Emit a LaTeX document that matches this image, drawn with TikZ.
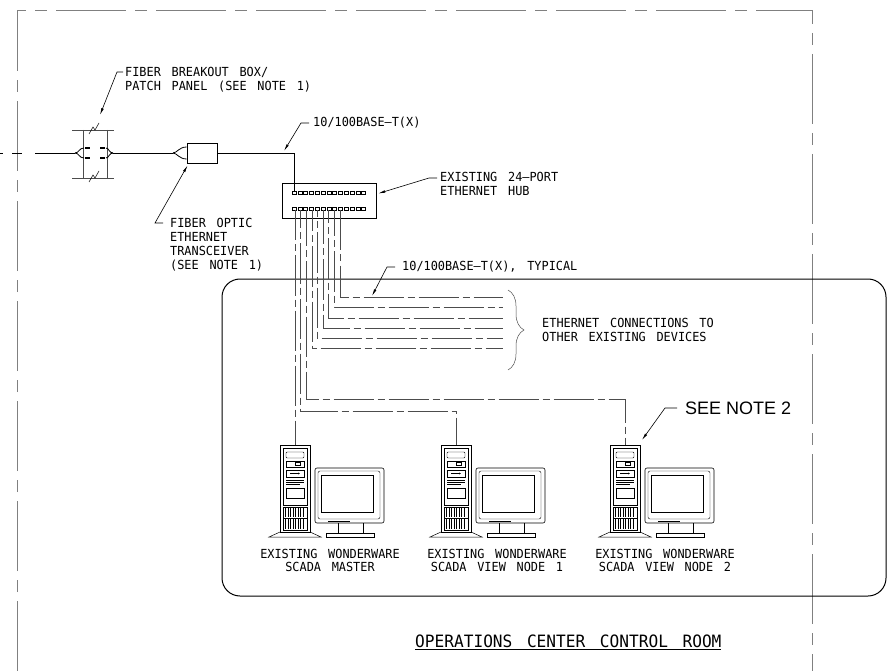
\documentclass[tikz,border=0pt]{standalone}
\usepackage{fontspec}
\newfontfamily\cadfont[FakeStretch=0.95,WordSpace=1.5]{DejaVu Sans Mono}
\newfontfamily\notefont{Liberation Sans}
\usetikzlibrary{arrows.meta,decorations.pathreplacing}

\tikzset{
  lbl/.style={font=\cadfont\fontsize{12.5}{14}\selectfont, inner sep=0pt, anchor=north west, align=left},
  wslabel/.style={font=\cadfont\fontsize{12.5}{13}\selectfont, inner sep=0pt, anchor=north, align=center},
  leader/.style={line width=0.6pt, ->},
  wire/.style={line width=0.8pt},
  cable/.style={black!70, line width=0.6pt, dash pattern=on 40pt off 4pt on 7pt off 4pt},
  frame/.style={black!50, line width=0.6pt, dash pattern=on 70pt off 9pt on 12pt off 9pt},
  workstation/.pic={
    % tower
    \draw[line width=0.6pt] (0,0) rectangle (30,87);
    \draw[line width=0.4pt] (3,3) rectangle (27,60);
    \draw[line width=0.4pt, rounded corners=1pt] (6,7) rectangle (24,13);
    \draw[line width=0.4pt] (6,16) rectangle (24,22) (15,17.5) rectangle (20,20.5);
    \draw[line width=0.4pt] (6,25) rectangle (24,32);
    \draw[line width=0.4pt, -{Latex[length=2pt,width=2pt]}] (10,28.5) -- (20,28.5);
    \draw[line width=0.4pt] (6,35) -- (24,35) (6,37) -- (24,37) (6,39) -- (20,39);
    \draw[line width=0.4pt] (6,43) rectangle (24,53);
    \draw[line width=0.4pt] (3,62) rectangle (27,85) (3,73) -- (27,73);
    \foreach \s in {5.5,8,...,25}
      \draw[line width=0.3pt] (\s,63) -- (\s,72) (\s,74) -- (\s,84);
    \draw[line width=0.5pt] (0,87) -- (-11,92) -- (41,92) -- (30,87);
    % monitor
    \draw[line width=0.6pt, rounded corners=2pt] (35,23) rectangle (104,78);
    \draw[line width=0.4pt, rounded corners=2pt] (38,26) rectangle (100,74);
    \draw[line width=0.6pt] (41,30) rectangle (93,67);
    \draw[line width=0.4pt] (48,76) -- (70,76);
    \draw[line width=0.5pt] (58,78) -- (58,88) (83,78) -- (83,88);
    \draw[line width=0.5pt] (46,88) rectangle (94,92);
    \coordinate (-top) at (15,0);
    \coordinate (-tr) at (32,-5);
  }
}

\begin{document}
\begin{tikzpicture}[x=1pt,y=-1pt,>={Latex[length=7pt,width=2.6pt]}]
\useasboundingbox (0,0) rectangle (889,671);

% building boundary and control room
\draw[frame] (17,671) -- (17,10) -- (812,10) -- (812,671);
\draw[line width=1pt, rounded corners=18pt] (222,279) rectangle (886,596);

% incoming fiber and breakout box
\draw[wire] (0,153) -- (3,153) (12,153) -- (22,153) (35,153) -- (75,153);
\draw[black!70, line width=0.6pt] (72,130) -- (114,130) (72,178) -- (114,178)
  (83,130) -- (83,178) (107,130) -- (107,178);
\draw[line width=0.5pt] (89,134) -- (93,127) -- (95,130) -- (99,123);
\draw[line width=0.5pt] (89,182) -- (93,175) -- (95,178) -- (99,171);
\draw[wire] (75,153) .. controls (79,153) and (79,148) .. (84,148);
\draw[wire] (75,153) .. controls (79,153) and (79,158) .. (84,158);
\draw[line width=1.8pt] (85,148) -- (90,148) (85,158) -- (90,158)
  (100,148) -- (105,148) (100,158) -- (105,158);
\draw[wire] (113,153) .. controls (109,153) and (109,148) .. (106,148);
\draw[wire] (113,153) .. controls (109,153) and (109,158) .. (106,158);
\coordinate (bbtip) at (100,115);

% transceiver
\node[draw, line width=0.9pt, minimum width=30pt, minimum height=20pt, inner sep=0pt] (xcvr) at (202,153) {};
\draw[wire] (113,153) -- (173,153);
\draw[wire] (173,153) .. controls (177,153) and (179,147) .. (xcvr.west |- 0,147);
\draw[wire] (173,153) .. controls (177,153) and (179,159) .. (xcvr.west |- 0,159);

% ethernet hub
\node[draw, line width=0.5pt, minimum width=94pt, minimum height=35pt, inner sep=0pt] (hub) at (329,200.5) {};
\foreach \i in {0,...,12} {
  \draw[line width=0.4pt] (292+\i*5.8,191.5) rectangle ++(4,3);
  \draw[line width=0.4pt] (292+\i*5.8,207.5) rectangle ++(4,3);
}
\coordinate (uplink) at (294,191.5);
\draw[wire] (xcvr.east) -| (uplink);

% patch cables to other devices
\foreach \x/\y/\p in {340/297/0, 334/307/14, 328/318/27, 323/328/6, 317/338/33, 312/348/19}
  \draw[cable, dash phase=\p] (\x,210.5) |- (503,\y);

% workstations
\pic (m) at (280,445) {workstation};
\pic (na) at (441,445) {workstation};
\pic (nb) at (610,445) {workstation};
\draw[cable, dash phase=10] (295,210.5) -- (m-top);
\draw[cable, dash phase=22] (300,210.5) -- (300,411) -| (na-top);
\draw[cable, dash phase=4] (306,210.5) -- (306,399) -| (nb-top);

\draw[black!70, line width=0.5pt, decorate, decoration={brace, amplitude=16pt}] (508,290) -- (508,370);

% labels
\node[lbl] (fbb) at (125,67) {FIBER BREAKOUT BOX/\\PATCH PANEL (SEE NOTE 1)};
\node[lbl, anchor=west] (base) at (313,123) {10/100BASE—T(X)};
\node[lbl] (hubl) at (440,172) {EXISTING 24—PORT\\ETHERNET HUB};
\node[lbl] (foet) at (170,218) {FIBER OPTIC\\ETHERNET\\TRANSCEIVER\\(SEE NOTE 1)};
\node[lbl, anchor=west] (typ) at (402,267) {10/100BASE—T(X), TYPICAL};
\node[lbl] (edev) at (542,318) {ETHERNET CONNECTIONS TO\\OTHER EXISTING DEVICES};
\node[font=\notefont\fontsize{18}{20}\selectfont, inner sep=0pt, anchor=west] (note) at (685,408) {SEE NOTE 2};
\node[wslabel] (ml) at (330,549) {EXISTING WONDERWARE\\SCADA MASTER};
\node[wslabel] (nal) at (497,549) {EXISTING WONDERWARE\\SCADA VIEW NODE 1};
\node[wslabel] (nbl) at (665,549) {EXISTING WONDERWARE\\SCADA VIEW NODE 2};
\node[font=\cadfont\fontsize{17}{19}\selectfont, inner sep=0pt, anchor=west] (room) at (415,642) {\underline{OPERATIONS CENTER CONTROL ROOM}};

% leaders
\draw[leader] ([shift={(-2,5)}]fbb.north west) -- ++(-6,0) -- (bbtip);
\draw[leader] ([xshift=-4pt]base.west) -- ++(-8,0) -- (284,151);
\draw[leader] ([shift={(-3,6)}]hubl.north west) -- ++(-8,0) -- ([shift={(2,-7)}]hub.east);
\draw[leader] ([shift={(-7,5)}]foet.north west) -- ++(-8,0) -- ([shift={(1,2)}]xcvr.south west);
\draw[leader] ([xshift=-7pt]typ.west) -- ++(-8,0) -- (372,296);
\draw[leader] ([xshift=-8pt]note.west) -- ++(-12,0) -- (nb-tr);
\end{tikzpicture}
\end{document}
